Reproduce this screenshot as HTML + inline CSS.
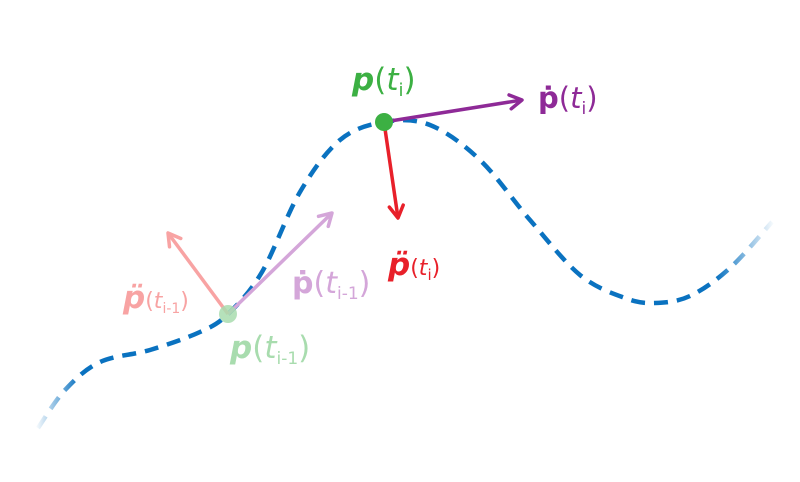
<!DOCTYPE html>
<html><head><meta charset="utf-8"><style>
html,body{margin:0;padding:0;background:#fff;}
svg{display:block;}
text{font-family:"DejaVu Sans","Liberation Sans",sans-serif;}
</style></head><body>
<svg id="chart" width="800" height="482" viewBox="0 0 800 482" xmlns="http://www.w3.org/2000/svg">
<defs>
<linearGradient id="fade" gradientUnits="userSpaceOnUse" x1="35" y1="0" x2="775" y2="0">
<stop offset="0" stop-color="#0a72c0" stop-opacity="0"/>
<stop offset="0.06" stop-color="#0a72c0" stop-opacity="1"/>
<stop offset="0.92" stop-color="#0a72c0" stop-opacity="1"/>
<stop offset="1" stop-color="#0a72c0" stop-opacity="0"/>
</linearGradient>
</defs>
<path id="curve" fill="none" stroke="url(#fade)" stroke-width="4.5" stroke-dasharray="14 9"/>
<g id="vectors"></g>
<g id="labels">
<text x="352" y="90" fill="#3cb043" font-size="31"><tspan font-weight="bold" font-style="italic">p</tspan>(<tspan font-style="italic">t</tspan><tspan font-size="18" dy="6">i</tspan><tspan dy="-6">)</tspan></text>
<text x="538" y="108" fill="#8e2a97" font-size="29"><tspan font-weight="bold">ṗ</tspan>(<tspan font-style="italic">t</tspan><tspan font-size="17" dy="6">i</tspan><tspan dy="-6">)</tspan></text>
<text x="388" y="275" fill="#e8202a" font-size="31"><tspan font-weight="bold" font-style="italic">p̈</tspan><tspan font-size="22">(</tspan><tspan font-size="22" font-style="italic">t</tspan><tspan font-size="15" dy="5">i</tspan><tspan font-size="22" dy="-5">)</tspan></text>
<text x="123" y="308" fill="#f8a3a3" font-size="31"><tspan font-weight="bold" font-style="italic">p̈</tspan><tspan font-size="22">(</tspan><tspan font-size="22" font-style="italic">t</tspan><tspan font-size="14" dy="5">i-1</tspan><tspan font-size="22" dy="-5">)</tspan></text>
<text x="292" y="293" fill="#d4a6d9" font-size="30"><tspan font-weight="bold">ṗ</tspan>(<tspan font-style="italic">t</tspan><tspan font-size="17" dy="6">i-1</tspan><tspan dy="-6">)</tspan></text>
<text x="230" y="358" fill="#a8dcae" font-size="31"><tspan font-weight="bold" font-style="italic">p</tspan>(<tspan font-style="italic">t</tspan><tspan font-size="17" dy="6">i-1</tspan><tspan dy="-6">)</tspan></text>
</g>
</svg>
<script>
const curveX = [38, 65, 100, 150, 200, 228, 262, 300, 340, 384, 430, 480, 530, 580, 625, 655, 690, 730, 772];
const curveY = [428, 390, 362, 350, 332, 314, 272, 192, 140, 122, 125, 160, 220, 275, 298, 303, 296, 268, 222];
const vecX0 = [384, 384, 228, 228];
const vecY0 = [122, 122, 314, 314];
const vecX1 = [522, 398, 332, 168];
const vecY1 = [100, 218, 213, 233];
const vecColor = ['#8e2a97', '#e8202a', '#d4a6d9', '#f8a3a3'];
const vecName = ['velocity-ti-arrow', 'acceleration-ti-arrow', 'velocity-ti-1-arrow', 'acceleration-ti-1-arrow'];
const ptX = [228, 384];
const ptY = [314, 122];
const ptColor = ['#a8dcae', '#3cb043'];
const ptName = ['point-ti-1', 'point-ti'];

const NS = 'http://www.w3.org/2000/svg';
let d = 'M' + curveX[0] + ',' + curveY[0];
for (let i = 0; i < curveX.length - 1; i++) {
  const x0 = curveX[Math.max(i-1,0)], y0 = curveY[Math.max(i-1,0)];
  const x1 = curveX[i], y1 = curveY[i], x2 = curveX[i+1], y2 = curveY[i+1];
  const x3 = curveX[Math.min(i+2,curveX.length-1)], y3 = curveY[Math.min(i+2,curveX.length-1)];
  d += ' C' + (x1+(x2-x0)/6) + ',' + (y1+(y2-y0)/6) + ' ' + (x2-(x3-x1)/6) + ',' + (y2-(y3-y1)/6) + ' ' + x2 + ',' + y2;
}
document.getElementById('curve').setAttribute('d', d);
const g = document.getElementById('vectors');
for (let i = 0; i < vecX0.length; i++) {
  const dx = vecX1[i]-vecX0[i], dy = vecY1[i]-vecY0[i], L = Math.hypot(dx,dy);
  const ux = dx/L, uy = dy/L, h = 12, w = 7;
  const grp = document.createElementNS(NS,'g');
  
  
  const ln = document.createElementNS(NS,'line');
  ln.setAttribute('x1',vecX0[i]); ln.setAttribute('y1',vecY0[i]);
  ln.setAttribute('x2',vecX1[i]-ux*2); ln.setAttribute('y2',vecY1[i]-uy*2);
  ln.setAttribute('stroke',vecColor[i]); ln.setAttribute('stroke-width','3.5');
  grp.appendChild(ln);
  const hd = document.createElementNS(NS,'path');
  const bx = vecX1[i]-ux*h, by = vecY1[i]-uy*h;
  hd.setAttribute('d','M'+(bx-uy*w)+','+(by+ux*w)+' L'+vecX1[i]+','+vecY1[i]+' L'+(bx+uy*w)+','+(by-ux*w));
  hd.setAttribute('fill','none'); hd.setAttribute('stroke',vecColor[i]); hd.setAttribute('stroke-width','3.5');
  hd.setAttribute('stroke-linecap','round'); hd.setAttribute('stroke-linejoin','round');
  grp.appendChild(hd);
  g.appendChild(grp);
}
for (let i = 0; i < ptX.length; i++) {
  const c = document.createElementNS(NS,'circle');
  
  
  c.setAttribute('cx',ptX[i]); c.setAttribute('cy',ptY[i]); c.setAttribute('r','9');
  c.setAttribute('fill',ptColor[i]);
  if (i === 0) c.setAttribute('fill-opacity','0.85');
  g.appendChild(c);
}
</script>
</body></html>
